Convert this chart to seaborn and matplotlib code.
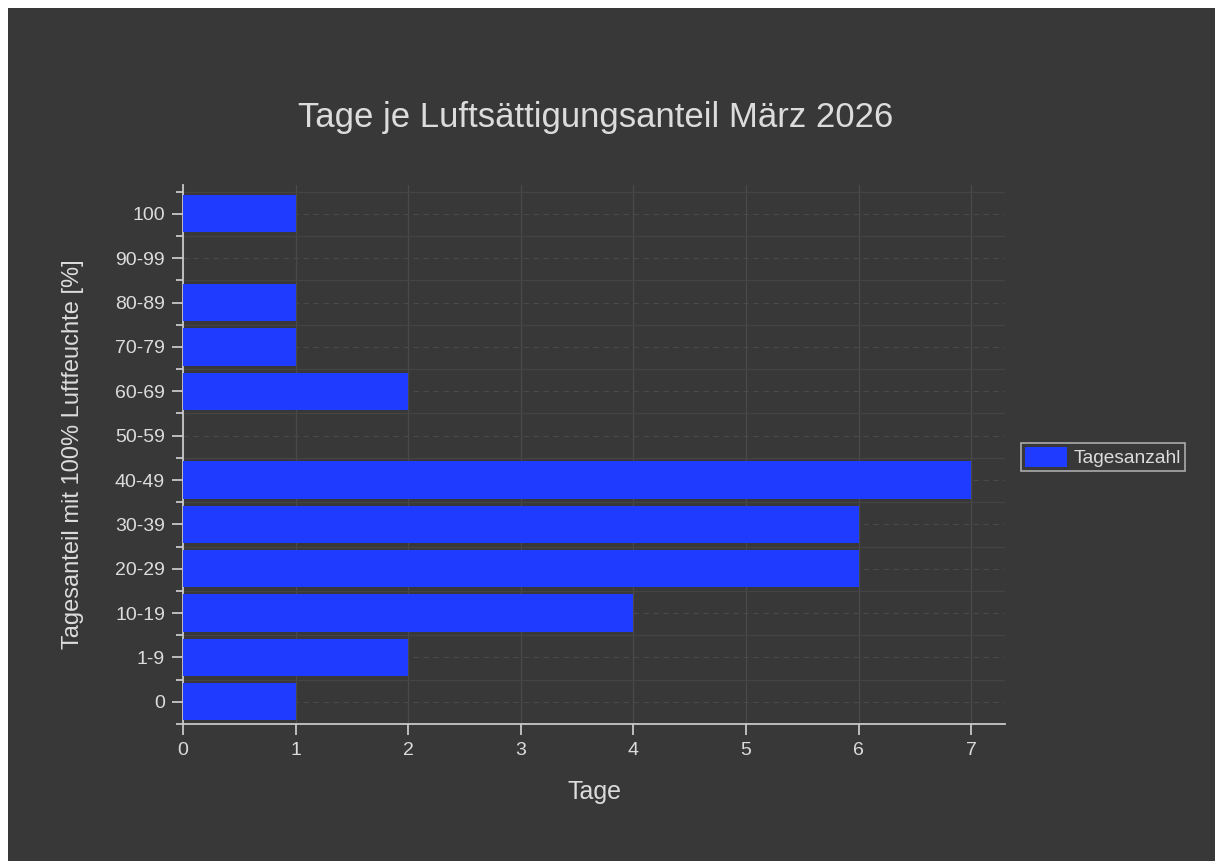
import matplotlib
matplotlib.use("Agg")
import matplotlib.pyplot as plt
import seaborn as sns
import pandas as pd
from matplotlib.patches import Rectangle
from matplotlib.ticker import MultipleLocator

# Daten
kategorien = ["0", "1-9", "10-19", "20-29", "30-39", "40-49", "50-59",
              "60-69", "70-79", "80-89", "90-99", "100"]
tage = [1, 2, 4, 6, 6, 7, 0, 2, 1, 1, 0, 1]
titel = "Tage je Luftsättigungsanteil März 2026"

bg = "#383838"
txt = "#dcdcdc"
balken = "#1f3bff"

sns.set_theme(style="dark")
plt.rcParams["font.family"] = ["Liberation Sans", "DejaVu Sans"]

df = pd.DataFrame({"Bereich": kategorien, "Tage": tage})

fig = plt.figure(figsize=(12.15, 8.61), dpi=100, facecolor="white")
# dunkler Hintergrund mit schmalem weißen Rand oben/links
fig.patches.append(Rectangle((8 / 1215, 0), 1, 1 - 8 / 861, transform=fig.transFigure,
                             facecolor=bg, edgecolor="none", zorder=-10))
ax = fig.add_axes([183 / 1215, 137 / 861, 822 / 1215, 539 / 861])
ax.set_facecolor(bg)

sns.barplot(data=df, x="Tage", y="Bereich", order=kategorien, orient="h",
            color=balken, saturation=1, width=0.84, linewidth=0, ax=ax,
            label="Tagesanzahl", zorder=3)

ax.set_xlim(0, 7.3)
ax.set_ylim(-0.5, 11.65)

# Gitter
ax.yaxis.set_minor_locator(MultipleLocator(1, offset=0.5))
ax.grid(False)
ax.grid(True, axis="x", which="major", color="#4a4a4a", lw=0.9, zorder=0)
ax.grid(True, axis="y", which="major", color="#4a4a4a", lw=0.8, ls=(0, (5, 4)), zorder=0)
ax.grid(True, axis="y", which="minor", color="#444444", lw=0.9, zorder=0)

for s in ["top", "right"]:
    ax.spines[s].set_visible(False)
for s in ["left", "bottom"]:
    ax.spines[s].set_color("#c8c8c8")
    ax.spines[s].set_linewidth(1.3)

ax.tick_params(axis="both", which="major", direction="out", length=8, width=1.3, pad=5,
               color="#c8c8c8", labelcolor=txt, labelsize=14, bottom=True, left=True)
ax.tick_params(axis="y", which="minor", direction="out", length=5, width=1.3,
               color="#c8c8c8", left=True)

ax.set_xlabel("Tage", color=txt, fontsize=18, labelpad=15)
ax.set_ylabel("Tagesanteil mit 100% Luftfeuchte [%]", color=txt, fontsize=17, labelpad=22)
fig.text(596 / 1215, 1 - 118 / 861, titel, color=txt, fontsize=25, ha="center", va="center")

leg = ax.legend(loc="center left", bbox_to_anchor=(1021 / 1215, 1 - 457 / 861),
                bbox_transform=fig.transFigure, frameon=True, fancybox=False,
                fontsize=13.8, handlelength=2.2, handleheight=1.3, borderpad=0.2,
                handletextpad=0.35, borderaxespad=0)
leg.get_frame().set_facecolor(bg)
leg.get_frame().set_edgecolor("#c8c8c8")
leg.get_frame().set_linewidth(1.2)
for t in leg.get_texts():
    t.set_color(txt)

fig.savefig("out.png", dpi=100, facecolor=fig.get_facecolor())
